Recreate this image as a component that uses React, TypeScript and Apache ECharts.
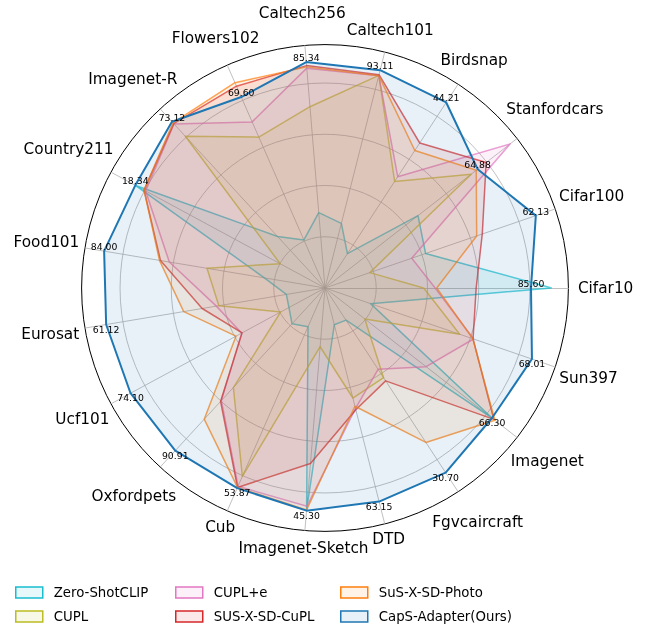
import React, { useEffect, useRef } from 'react';
import * as echarts from 'echarts';

const indicatorNames = [
  'Cifar10', 'Cifar100', 'Stanfordcars', 'Birdsnap', 'Caltech101', 'Caltech256',
  'Flowers102', 'Imagenet-R', 'Country211', 'Food101', 'Eurosat', 'Ucf101',
  'Oxfordpets', 'Cub', 'Imagenet-Sketch', 'DTD', 'Fgvcaircraft', 'Imagenet', 'Sun397',
];

// CapS-Adapter accuracy annotations
const capsLabels = [
  '85.60', '62.13', '64.88', '44.21', '93.11', '85.34', '69.60', '73.12', '18.34', '84.00',
  '61.12', '74.10', '90.91', '53.87', '45.30', '63.15', '30.70', '66.30', '68.01',
];

const seriesNames = ['Zero-ShotCLIP', 'CUPL', 'CUPL+e', 'SUS-X-SD-CuPL', 'SuS-X-SD-Photo', 'CapS-Adapter(Ours)'];
const seriesColors = ['#17becf', '#bcbd22', '#e377c2', '#d62728', '#ff7f0e', '#1f77b4'];

// normalised scores (radial position)
const zeroShot = [0.885, 0.415, 0.46, 0.16, 0.26, 0.295, 0.205, 0.273, 0.84, 0.24, 0.153, 0.16, 0.19, 0.165, 0.87, 0.148, 0.15, 0.825, 0.188];
const cupl = [0.385, 0.185, 0.723, 0.497, 0.856, 0.71, 0.643, 0.805, 0.199, 0.467, 0.42, 0.197, 0.528, 0.803, 0.23, 0.443, 0.418, 0.197, 0.556];
const cuplE = [0.43, 0.358, 0.916, 0.519, 0.855, 0.861, 0.708, 0.87, 0.796, 0.616, 0.43, 0.37, 0.597, 0.845, 0.855, 0.485, 0.379, 0.5, 0.613];
const susCupl = [0.59, 0.649, 0.797, 0.676, 0.859, 0.871, 0.86, 0.872, 0.803, 0.651, 0.486, 0.368, 0.602, 0.85, 0.687, 0.49, 0.433, 0.835, 0.611];
const susPhoto = [0.436, 0.626, 0.748, 0.641, 0.855, 0.866, 0.875, 0.876, 0.803, 0.655, 0.559, 0.395, 0.696, 0.85, 0.869, 0.476, 0.72, 0.84, 0.61];
const caps = [0.804, 0.87, 0.755, 0.865, 0.877, 0.885, 0.814, 0.882, 0.842, 0.874, 0.866, 0.863, 0.863, 0.853, 0.872, 0.86, 0.861, 0.826, 0.854];

const axisMax = 0.95;

function hexToRgba(hex: string, a: number) {
  const n = parseInt(hex.slice(1), 16);
  return `rgba(${(n >> 16) & 255},${(n >> 8) & 255},${n & 255},${a})`;
}

export default function App() {
  const ref = useRef<HTMLDivElement>(null);
  useEffect(() => {
    const chart = echarts.init(ref.current!, null, { renderer: 'svg' });
    const FONT = 'DejaVu Sans';
    const cx = 325, cy = 288, R = 243.4;
    const N = indicatorNames.length;
    const allData = [zeroShot, cupl, cuplE, susCupl, susPhoto, caps];

    const ctx = document.createElement('canvas').getContext('2d')!;
    ctx.font = `15.3px "${FONT}"`;
    const nameExtra: Record<string, number> = { Caltech256: 17, Cifar10: 4 };
    const nameGraphics = indicatorNames.map((name, k) => {
      const th = (2 * Math.PI * k) / N;
      const w = ctx.measureText(name).width;
      const r = R + 5.5 + (w / 2) * Math.abs(Math.cos(th)) + 6.5 * Math.abs(Math.sin(th)) + (nameExtra[name] || 0);
      return {
        type: 'text',
        x: cx + r * Math.cos(th),
        y: cy - r * Math.sin(th),
        silent: true,
        style: {
          text: name,
          fill: '#000',
          font: `15.3px "${FONT}"`,
          align: 'center',
          verticalAlign: 'middle',
        },
      };
    });

    const half = Math.floor(N / 2);
    const labelBase = { show: true, fontSize: 9.3, fontFamily: FONT, color: '#000', distance: 0 };

    const legendCols = [[0, 1], [2, 3], [4, 5]];
    const legendLefts = [15, 175, 340];

    chart.setOption({
      animation: false,
      textStyle: { fontFamily: FONT },
      graphic: nameGraphics,
      legend: legendCols.map((col, c) => ({
        orient: 'vertical',
        left: legendLefts[c],
        top: 586,
        padding: 0,
        icon: 'rect',
        itemWidth: 27,
        itemHeight: 11,
        itemGap: 11,
        selectedMode: false,
        textStyle: { fontSize: 13.3, color: '#000', fontFamily: FONT, padding: [0, 0, 0, 6] },
        data: col.map((i) => ({
          name: seriesNames[i],
          itemStyle: { color: hexToRgba(seriesColors[i], 0.1), borderColor: seriesColors[i], borderWidth: 1.5 },
        })),
      })),
      radar: [
        {
          center: [cx, cy],
          radius: R,
          startAngle: 0,
          shape: 'circle',
          splitNumber: 1,
          indicator: indicatorNames.map((name) => ({ name, min: 0, max: axisMax })),
          axisName: { show: false },
          axisLine: { show: true, lineStyle: { color: '#b0b0b0', width: 0.8 } },
          splitLine: { show: true, lineStyle: { color: ['rgba(0,0,0,0)', '#000'], width: 1 } },
          splitArea: { show: false },
          axisTick: { show: false },
          axisLabel: { show: false },
        },
        {
          center: [cx, cy],
          radius: R / axisMax,
          startAngle: 0,
          shape: 'circle',
          splitNumber: 5,
          indicator: indicatorNames.map((name) => ({ name, min: 0, max: 1 })),
          axisName: { show: false },
          axisLine: { show: false },
          splitLine: {
            show: true,
            lineStyle: { color: ['rgba(0,0,0,0)', '#b0b0b0', '#b0b0b0', '#b0b0b0', '#b0b0b0', 'rgba(0,0,0,0)'], width: 0.8 },
          },
          splitArea: { show: false },
          axisTick: { show: false },
          axisLabel: { show: false },
        },
      ],
      series: [
        {
          type: 'radar',
          radarIndex: 0,
          silent: true,
          data: allData.map((vals, i) => {
            const isCaps = i === allData.length - 1;
            return {
              name: seriesNames[i],
              value: vals,
              symbol: isCaps ? 'circle' : 'none',
              symbolSize: 0.01,
              itemStyle: { color: 'rgba(0,0,0,0)' },
              lineStyle: { color: seriesColors[i], width: isCaps ? 2 : 1.5, opacity: isCaps ? 1 : 0.7 },
              areaStyle: { color: seriesColors[i], opacity: 0.1 },
              label: isCaps
                ? {
                    ...labelBase,
                    position: 'top',
                    formatter: (p: any) => (p.dimensionIndex <= half ? capsLabels[p.dimensionIndex] : ''),
                  }
                : { show: false },
            };
          }),
        },
        {
          type: 'radar',
          radarIndex: 0,
          name: 'caps-lower-labels',
          silent: true,
          data: [
            {
              name: 'caps-lower-labels',
              value: caps,
              symbol: 'circle',
              symbolSize: 0.01,
              itemStyle: { color: 'rgba(0,0,0,0)' },
              lineStyle: { opacity: 0, width: 0 },
              label: {
                ...labelBase,
                position: 'bottom',
                formatter: (p: any) => (p.dimensionIndex > half ? capsLabels[p.dimensionIndex] : ''),
              },
            },
          ],
        },
      ],
    });
    return () => chart.dispose();
  }, []);
  return <div ref={ref} style={{ position: 'fixed', left: 0, top: 0, width: 646, height: 631 }} />;
}
